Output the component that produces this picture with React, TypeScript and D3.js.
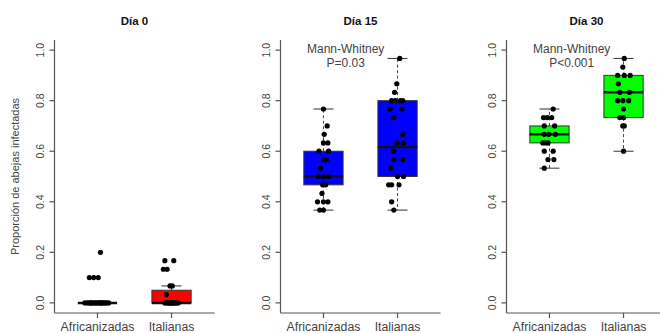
import React from "react";
import * as d3 from "d3";

const panelTitles = ["Día 0", "Día 15", "Día 30"];
const groups = ["Africanizadas", "Italianas"];
const boxColors = ["#FF0000", "#0000FF", "#00FF00"];
const yTicks = [0, 0.2, 0.4, 0.6, 0.8, 1.0];
const testLabels = [null, "P=0.03", "P<0.001"];

// box stats [lo whisker, q1, median, q3, hi whisker] per panel, per group
const boxStats: number[][][] = [
  [[0, 0, 0, 0, 0], [0, 0, 0, 0.05, 0.067]],
  [[0.367, 0.467, 0.5, 0.6, 0.767], [0.367, 0.5, 0.617, 0.8, 0.967]],
  [[0.533, 0.633, 0.667, 0.7, 0.767], [0.6, 0.733, 0.833, 0.9, 0.967]],
];

// points: [value, jitter]
const d0Afr: [number, number][] = [
  [0.2, 0.04], [0.1, -0.11], [0.1, -0.05], [0.1, 0.01],
  [0, -0.17], [0, -0.14], [0, -0.11], [0, -0.09], [0, -0.06], [0, -0.04], [0, -0.02], [0, 0.0],
  [0, 0.02], [0, 0.04], [0, 0.06], [0, 0.08], [0, 0.1], [0, 0.12], [0, 0.15], [0, -0.08], [0, 0.05],
];
const d0Ita: [number, number][] = [
  [0.167, -0.09], [0.167, 0.03], [0.133, -0.11], [0.133, -0.06], [0.067, -0.02], [0.067, 0.01],
  [0.033, -0.07],
  [0, -0.09], [0, -0.07], [0, -0.05], [0, -0.03], [0, -0.01], [0, 0.01], [0, 0.03], [0, 0.05],
  [0, 0.07], [0, 0.09], [0, -0.02], [0, 0.02],
];
const d15Afr: [number, number][] = [
  [0.767, 0.0], [0.7, 0.05], [0.667, 0.01], [0.633, 0.0], [0.633, 0.06],
  [0.6, -0.06], [0.6, 0.07], [0.567, 0.0], [0.567, 0.04], [0.533, -0.04],
  [0.5, -0.07], [0.5, 0.0], [0.5, 0.07], [0.467, -0.01], [0.467, 0.03],
  [0.433, -0.02], [0.4, -0.08], [0.4, 0.0], [0.4, 0.06], [0.367, -0.05], [0.367, 0.0],
];
const d15Ita: [number, number][] = [
  [0.967, 0.03], [0.867, -0.01], [0.833, -0.04], [0.8, -0.08], [0.8, -0.03], [0.8, 0.04], [0.8, 0.07],
  [0.767, -0.1], [0.767, 0.06], [0.733, -0.05], [0.667, 0.07], [0.633, -0.01], [0.633, 0.08],
  [0.6, -0.05], [0.567, -0.05], [0.567, 0.07], [0.533, -0.09], [0.5, 0.0], [0.5, 0.08],
  [0.467, -0.12], [0.467, -0.08], [0.467, 0.02], [0.4, -0.08], [0.367, -0.05],
];
const d30Afr: [number, number][] = [
  [0.767, 0.05], [0.733, -0.08], [0.733, -0.03], [0.733, 0.03], [0.7, -0.07], [0.7, 0.07],
  [0.667, -0.07], [0.667, -0.01], [0.667, 0.08], [0.633, -0.09], [0.633, -0.05], [0.633, -0.02],
  [0.6, -0.07], [0.6, 0.05], [0.567, -0.02], [0.567, 0.06], [0.533, -0.07],
];
const d30Ita: [number, number][] = [
  [0.967, 0.01], [0.933, -0.01], [0.9, -0.08], [0.9, 0.01], [0.9, 0.09], [0.867, -0.07],
  [0.833, -0.05], [0.833, 0.08], [0.8, -0.08], [0.8, -0.01], [0.8, 0.07], [0.767, 0.0],
  [0.733, -0.05], [0.733, 0.0], [0.7, -0.01], [0.7, 0.01], [0.6, 0.0],
];
const points = [[d0Afr, d0Ita], [d15Afr, d15Ita], [d30Afr, d30Ita]];

const W = 660;
const H = 333;
const panelStep = 226;
const plotLeft0 = 54.5;
const plotWidth = 160;
const plotTop = 40;
const plotBottom = 313;
const axisColor = "#555";
const textColor = "#444";
const font = "'Liberation Sans', Arial, sans-serif";

export default function App() {
  const y = d3.scaleLinear().domain([-0.04, 1.04]).range([plotBottom, plotTop]);
  return (
    <svg width={W} height={H} style={{ position: "absolute", left: 0, top: 0, background: "#fff" }} fontFamily={font}>
      <text
        transform={`translate(16.5,${(y(0) + y(1)) / 2}) rotate(-90)`}
        textAnchor="middle"
        fontSize={11}
        fill={textColor}
        dominantBaseline="middle"
      >
        Proporción de abejas infectadas
      </text>
      {panelTitles.map((title, pi) => {
        const left = plotLeft0 + pi * panelStep;
        const x = d3.scaleLinear().domain([0.42, 2.58]).range([left, left + plotWidth]);
        const unit = x(1) - x(0);
        const boxW = 0.53 * unit;
        const capW = 0.27 * unit;
        return (
          <g key={title}>
            <text x={x(1.5)} y={25} textAnchor="middle" fontSize={11.5} fontWeight="bold" fill="#111">
              {title}
            </text>
            {testLabels[pi] && (
              <g fontSize={12} fill={textColor} textAnchor="middle">
                <text x={x(1.3)} y={53}>Mann-Whitney</text>
                <text x={x(1.3)} y={67}>{testLabels[pi]}</text>
              </g>
            )}
            {/* axes */}
            <line x1={left} x2={left} y1={plotTop} y2={plotBottom} stroke={axisColor} strokeWidth={1.2} />
            <line x1={left} x2={left + plotWidth} y1={plotBottom} y2={plotBottom} stroke={axisColor} strokeWidth={1.2} />
            {yTicks.map((t) => (
              <g key={t}>
                <line x1={left - 5} x2={left} y1={y(t)} y2={y(t)} stroke={axisColor} strokeWidth={1.2} />
                <text
                  transform={`translate(${left - 13},${y(t)}) rotate(-90)`}
                  textAnchor="middle"
                  dominantBaseline="middle"
                  fontSize={10.5}
                  fill={textColor}
                >
                  {t.toFixed(1)}
                </text>
              </g>
            ))}
            {groups.map((g, gi) => (
              <g key={g}>
                <line x1={x(gi + 1)} x2={x(gi + 1)} y1={plotBottom} y2={plotBottom + 5} stroke={axisColor} strokeWidth={1.2} />
                <text x={x(gi + 1)} y={331} textAnchor="middle" fontSize={12.3} fill={textColor}>
                  {g}
                </text>
              </g>
            ))}
            {/* boxes */}
            {groups.map((g, gi) => {
              const [lo, q1, med, q3, hi] = boxStats[pi][gi];
              const cx = x(gi + 1);
              return (
                <g key={g + "box"}>
                  <line x1={cx} x2={cx} y1={y(q3)} y2={y(hi)} stroke="#444" strokeDasharray="3 2.5" />
                  <line x1={cx} x2={cx} y1={y(q1)} y2={y(lo)} stroke="#444" strokeDasharray="3 2.5" />
                  <line x1={cx - capW / 2} x2={cx + capW / 2} y1={y(hi)} y2={y(hi)} stroke="#333" />
                  <line x1={cx - capW / 2} x2={cx + capW / 2} y1={y(lo)} y2={y(lo)} stroke="#333" />
                  <rect
                    x={cx - boxW / 2}
                    y={y(q3)}
                    width={boxW}
                    height={Math.max(0, y(q1) - y(q3))}
                    fill={boxColors[pi]}
                    stroke="#333"
                  />
                  <line x1={cx - boxW / 2} x2={cx + boxW / 2} y1={y(med)} y2={y(med)} stroke="#111" strokeWidth={2.5} />
                </g>
              );
            })}
            {/* points */}
            {groups.map((g, gi) =>
              points[pi][gi].map(([v, j], k) => (
                <circle key={g + k} cx={x(gi + 1 + j)} cy={y(v)} r={2.6} fill="#000" />
              ))
            )}
          </g>
        );
      })}
    </svg>
  );
}
